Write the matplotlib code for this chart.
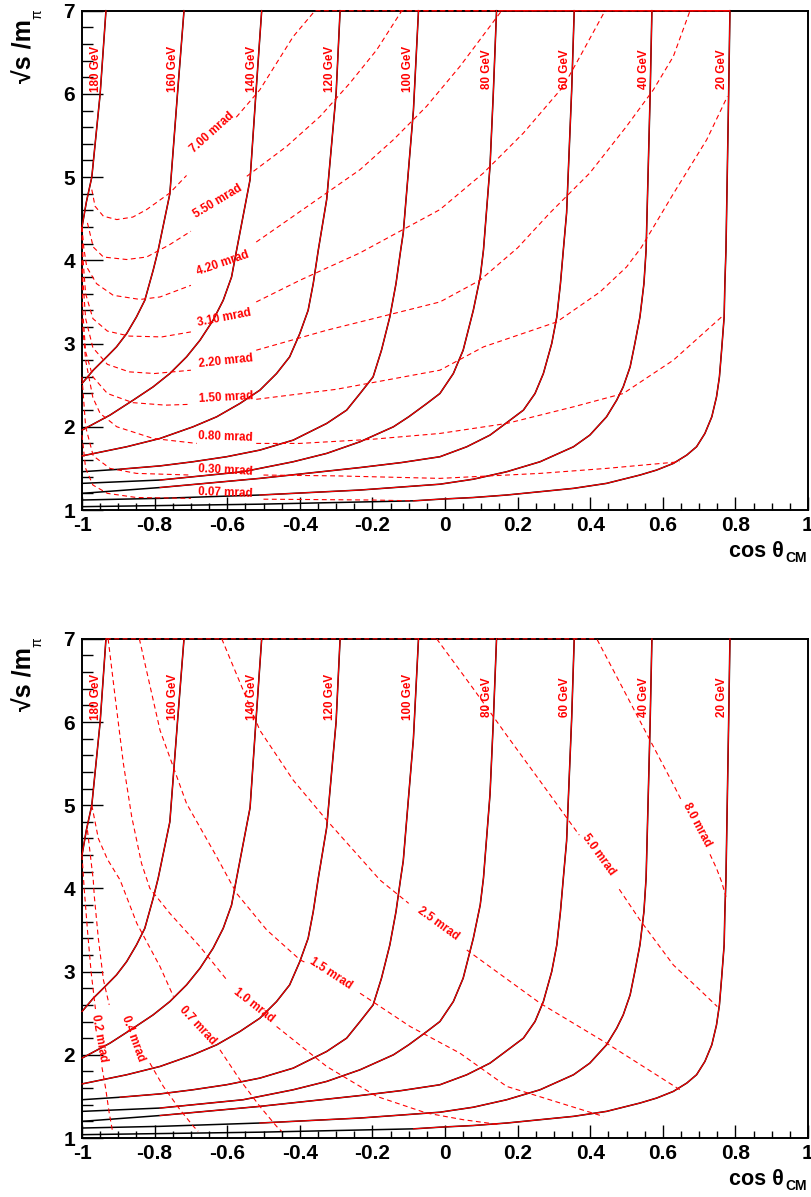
import numpy as np
import matplotlib
matplotlib.use("Agg")
import matplotlib.pyplot as plt
from matplotlib.ticker import MultipleLocator

plt.rcParams['font.family'] = ['Liberation Sans', 'DejaVu Sans']
plt.rcParams['font.weight'] = 'bold'
plt.rcParams['lines.scale_dashes'] = False

nan = float('nan')

# --- energy contours, (cos theta_CM, sqrt(s)/m_pi) ---
gev_180 = [(-0.934, 7.0), (-0.950, 6.0), (-0.973, 5.0), (-0.988, 4.7), (-1.0, 4.40)]
gev_160 = [(-0.719, 7.0), (-0.737, 6.0), (-0.758, 4.8), (-0.790, 4.125), (-0.804, 3.88),
           (-0.827, 3.52), (-0.850, 3.32), (-0.877, 3.12), (-0.905, 2.96), (-0.932, 2.84),
           (-0.969, 2.68), (-1.0, 2.52)]
gev_140 = [(-0.505, 7.0), (-0.521, 6.0), (-0.537, 4.97), (-0.574, 4.125), (-0.588, 3.80),
           (-0.611, 3.52), (-0.639, 3.28), (-0.675, 3.04), (-0.712, 2.84), (-0.758, 2.64),
           (-0.804, 2.48), (-0.859, 2.32), (-0.923, 2.14), (-1.0, 1.96)]
gev_120 = [(-0.289, 7.0), (-0.300, 6.0), (-0.326, 4.73), (-0.349, 4.125), (-0.363, 3.72),
           (-0.377, 3.40), (-0.400, 3.12), (-0.428, 2.84), (-0.464, 2.64), (-0.510, 2.44),
           (-0.565, 2.28), (-0.629, 2.12), (-0.694, 2.0), (-0.785, 1.86), (-0.877, 1.76),
           (-1.0, 1.65)]
gev_100 = [(-0.073, 7.0), (-0.087, 5.8), (-0.115, 4.33), (-0.122, 4.125), (-0.135, 3.72),
           (-0.152, 3.32), (-0.175, 2.92), (-0.198, 2.60), (-0.234, 2.40), (-0.271, 2.20),
           (-0.326, 2.04), (-0.418, 1.84), (-0.510, 1.72), (-0.602, 1.64), (-0.694, 1.58),
           (-0.785, 1.53), (-0.895, 1.49), (-1.0, 1.46)]
gev_80 = [(0.142, 7.0), (0.133, 6.0), (0.124, 5.13), (0.106, 4.125), (0.097, 3.80),
          (0.078, 3.40), (0.050, 2.92), (0.023, 2.64), (-0.014, 2.40), (-0.050, 2.28),
          (-0.100, 2.12), (-0.142, 2.0), (-0.234, 1.82), (-0.326, 1.68), (-0.418, 1.58),
          (-0.556, 1.46), (-0.785, 1.36), (-1.0, 1.32)]
gev_60 = [(0.356, 7.0), (0.349, 6.05), (0.335, 4.57), (0.326, 4.125), (0.318, 3.72),
          (0.308, 3.32), (0.294, 3.0), (0.271, 2.64), (0.248, 2.40), (0.216, 2.20),
          (0.161, 2.02), (0.124, 1.90), (0.060, 1.76), (-0.014, 1.64), (-0.120, 1.57),
          (-0.234, 1.51), (-0.510, 1.38), (-0.785, 1.27), (-1.0, 1.20)]
gev_40 = [(0.570, 7.0), (0.565, 5.97), (0.554, 4.125), (0.548, 3.72), (0.537, 3.32),
          (0.523, 3.0), (0.510, 2.72), (0.491, 2.48), (0.473, 2.32), (0.445, 2.12),
          (0.399, 1.90), (0.354, 1.76), (0.262, 1.58), (0.170, 1.46), (0.078, 1.37),
          (-0.014, 1.31), (-0.234, 1.24), (-0.510, 1.18), (-0.785, 1.14), (-1.0, 1.12)]
gev_20 = [(0.785, 7.0), (0.781, 5.9), (0.774, 4.125), (0.771, 3.72), (0.769, 3.32),
          (0.762, 2.92), (0.756, 2.60), (0.748, 2.36), (0.735, 2.12), (0.716, 1.92),
          (0.693, 1.76), (0.666, 1.66), (0.629, 1.56), (0.583, 1.48), (0.537, 1.42),
          (0.445, 1.32), (0.354, 1.26), (0.262, 1.22), (0.170, 1.18), (0.078, 1.15),
          (-0.014, 1.13), (-0.087, 1.11), (-0.510, 1.07), (-1.0, 1.04)]

gev_names = ['180 GeV', '160 GeV', '140 GeV', '120 GeV', '100 GeV',
             '80 GeV', '60 GeV', '40 GeV', '20 GeV']
gev_curves = [gev_180, gev_160, gev_140, gev_120, gev_100, gev_80, gev_60, gev_40, gev_20]
red_from = [-1.0, -1.0, -1.0, -1.0, -0.98, -0.92, -0.86, -0.675, -0.09]
gev_label_x = [-0.961, -0.748, -0.533, -0.317, -0.101, 0.115, 0.331, 0.548, 0.762]
gev_label_y = 6.3

# --- top panel: dashed angle contours ---
top_700 = [(-0.973, 4.85), (-0.964, 4.65), (-0.941, 4.53), (-0.904, 4.49), (-0.860, 4.52),
           (-0.822, 4.61), (-0.758, 4.81), (-0.712, 5.02), (nan, nan), (-0.575, 5.72),
           (-0.510, 6.05), (-0.464, 6.37), (-0.418, 6.69), (-0.358, 7.0), (0.785, 7.0)]
top_550 = [(-0.985, 4.45), (-0.969, 4.16), (-0.941, 4.04), (-0.877, 4.01), (-0.822, 4.04),
           (-0.758, 4.19), (-0.700, 4.35), (nan, nan), (-0.546, 5.01), (-0.436, 5.37),
           (-0.344, 5.73), (-0.262, 6.13), (-0.188, 6.53), (-0.119, 7.0), (0.785, 7.0)]
top_420 = [(-1.0, 4.4), (-0.995, 4.15), (-0.987, 3.92), (-0.960, 3.72), (-0.914, 3.58),
           (-0.840, 3.53), (-0.785, 3.56), (-0.700, 3.70), (nan, nan), (-0.520, 4.22),
           (-0.418, 4.53), (-0.326, 4.81), (-0.234, 5.09), (-0.142, 5.45), (-0.051, 5.85),
           (0.041, 6.33), (0.096, 6.65), (0.156, 7.0), (0.785, 7.0)]
top_310 = [(-1.0, 4.4), (-0.997, 4.0), (-0.990, 3.6), (-0.970, 3.3), (-0.930, 3.15),
           (-0.870, 3.09), (-0.780, 3.08), (-0.700, 3.14), (nan, nan), (-0.520, 3.50),
           (-0.400, 3.76), (-0.234, 4.09), (-0.014, 4.61), (0.106, 5.05), (0.216, 5.53),
           (0.326, 6.09), (0.372, 6.45), (0.441, 7.0), (0.785, 7.0)]
top_220 = [(-1.0, 4.4), (-0.998, 3.8), (-0.990, 3.3), (-0.970, 2.95), (-0.930, 2.75),
           (-0.870, 2.66), (-0.800, 2.64), (-0.700, 2.68), (nan, nan), (-0.520, 2.92),
           (-0.326, 3.16), (-0.142, 3.36), (-0.014, 3.50), (0.096, 3.76), (0.200, 4.15),
           (0.289, 4.57), (0.399, 5.05), (0.500, 5.61), (0.574, 6.05), (0.629, 6.45),
           (0.675, 7.0), (0.785, 7.0)]
top_150 = [(-1.0, 4.0), (-0.998, 3.4), (-0.990, 2.9), (-0.970, 2.6), (-0.930, 2.40),
           (-0.860, 2.29), (-0.770, 2.26), (-0.700, 2.27), (nan, nan), (-0.520, 2.33),
           (-0.300, 2.45), (-0.014, 2.68), (0.106, 2.96), (0.308, 3.26), (0.427, 3.62),
           (0.500, 3.92), (0.540, 4.15), (0.629, 4.80), (0.721, 5.45), (0.778, 5.97)]
top_080 = [(-1.0, 3.3), (-0.990, 2.8), (-0.970, 2.35), (-0.950, 2.16), (-0.904, 2.0),
           (-0.804, 1.86), (-0.684, 1.80), (nan, nan), (-0.520, 1.80), (-0.400, 1.80),
           (-0.200, 1.85), (-0.014, 1.92), (0.170, 2.04), (0.354, 2.24), (0.491, 2.40),
           (0.629, 2.80), (0.767, 3.34)]
top_030 = [(-1.0, 2.6), (-0.990, 2.0), (-0.969, 1.65), (-0.923, 1.50), (-0.850, 1.44),
           (-0.700, 1.42), (nan, nan), (-0.500, 1.42), (-0.300, 1.41), (-0.014, 1.38),
           (0.262, 1.44), (0.445, 1.50), (0.647, 1.58)]
top_007 = [(-1.0, 1.9), (-0.990, 1.5), (-0.970, 1.30), (-0.930, 1.20), (-0.850, 1.15),
           (-0.700, 1.14), (nan, nan), (-0.500, 1.13), (-0.200, 1.12), (-0.087, 1.11)]

top_names = ['7.00 mrad', '5.50 mrad', '4.20 mrad', '3.10 mrad', '2.20 mrad',
             '1.50 mrad', '0.80 mrad', '0.30 mrad', '0.07 mrad']
top_curves = [top_700, top_550, top_420, top_310, top_220, top_150, top_080, top_030, top_007]
top_label_x = [-0.641, -0.625, -0.613, -0.607, -0.604, -0.604, -0.604, -0.604, -0.604]
top_label_y = [5.53, 4.71, 3.97, 3.31, 2.79, 2.35, 1.88, 1.47, 1.21]
top_label_rot = [42, 31, 19, 11, 6, 3, -2, -3, -2]

# --- bottom panel: dashed angle contours ---
bot_80 = [(-0.934, 7.0), (0.418, 7.0), (0.482, 6.47), (0.565, 5.78), (0.629, 5.25),
          (0.650, 5.07), (nan, nan), (0.730, 4.41), (0.748, 4.24), (0.762, 4.08),
          (0.774, 3.90)]
bot_50 = [(-0.023, 7.0), (0.041, 6.62), (0.078, 6.40), (0.170, 5.84), (0.262, 5.29),
          (0.335, 4.85), (0.370, 4.64), (nan, nan), (0.480, 3.99), (0.537, 3.62),
          (0.629, 3.08), (0.702, 2.78), (0.750, 2.58)]
bot_25 = [(-0.615, 7.0), (-0.510, 5.90), (-0.418, 5.30), (-0.326, 4.82), (-0.179, 4.10),
          (-0.100, 3.82), (nan, nan), (0.060, 3.26), (0.262, 2.62), (0.445, 2.14),
          (0.647, 1.58)]
bot_15 = [(-0.842, 7.0), (-0.785, 5.90), (-0.712, 5.02), (-0.629, 4.38), (-0.574, 3.94),
          (-0.491, 3.50), (-0.399, 3.14), (-0.380, 3.10), (nan, nan), (-0.234, 2.74),
          (-0.096, 2.34), (0.041, 2.02), (0.170, 1.62), (0.436, 1.26)]
bot_10 = [(-0.928, 7.0), (-0.909, 6.31), (-0.886, 5.50), (-0.863, 4.86), (-0.836, 4.30),
          (-0.813, 4.00), (-0.758, 3.70), (-0.675, 3.30), (-0.601, 2.90), (nan, nan),
          (-0.464, 2.34), (-0.326, 1.86), (-0.188, 1.50), (-0.051, 1.30), (0.050, 1.22),
          (0.152, 1.16)]
bot_07 = [(-0.973, 5.0), (-0.955, 4.6), (-0.930, 4.35), (-0.895, 4.10), (-0.849, 3.58),
          (-0.785, 3.06), (-0.748, 2.70), (nan, nan), (-0.620, 2.06), (-0.565, 1.70),
          (-0.510, 1.38), (-0.464, 1.14), (-0.450, 1.08)]
bot_04 = [(-0.985, 4.7), (-0.969, 4.10), (-0.966, 3.90), (-0.955, 3.40), (-0.941, 2.90),
          (-0.925, 2.60), (nan, nan), (-0.813, 1.90), (-0.776, 1.62), (-0.730, 1.34),
          (-0.693, 1.14), (-0.680, 1.08)]
bot_02 = [(-1.0, 4.4), (-0.994, 4.0), (-0.985, 3.5), (-0.975, 3.0), (-0.963, 2.55),
          (nan, nan), (-0.945, 1.85), (-0.935, 1.60), (-0.925, 1.30), (-0.915, 1.06)]

bot_names = ['8.0 mrad', '5.0 mrad', '2.5 mrad', '1.5 mrad', '1.0 mrad',
             '0.7 mrad', '0.4 mrad', '0.2 mrad']
bot_curves = [bot_80, bot_50, bot_25, bot_15, bot_10, bot_07, bot_04, bot_02]
bot_label_x = [0.693, 0.424, -0.020, -0.315, -0.528, -0.682, -0.859, -0.952]
bot_label_y = [4.76, 4.40, 3.58, 2.98, 2.59, 2.35, 2.20, 2.20]
bot_label_rot = [-62, -54, -36, -33, -38, -47, -70, -80]

xtick_labels = ['-1', '-0.8', '-0.6', '-0.4', '-0.2', '0', '0.2', '0.4', '0.6', '0.8', '1']
ytick_labels = ['1', '2', '3', '4', '5', '6', '7']

W, H = 811, 1197


def draw_panel(ax, curves, names, lx, ly, lrot):
    for pts, start in zip(gev_curves, red_from):
        a = np.array(pts)
        ax.plot(a[:, 0], a[:, 1], color='black', lw=1.1, zorder=3, clip_on=False)
        r = a[a[:, 0] >= start]
        ax.plot(r[:, 0], r[:, 1], color='red', lw=0.8, zorder=4, clip_on=False)
    for name, x in zip(gev_names, gev_label_x):
        ax.text(x, gev_label_y, name, color='red', fontsize=8.4, rotation=90,
                ha='center', va='center', zorder=6)
    for pts in curves:
        a = np.array(pts)
        ax.plot(a[:, 0], a[:, 1], color='red', lw=0.8, dashes=(3.5, 2.5),
                zorder=5, clip_on=False)
    for name, x, y, rot in zip(names, lx, ly, lrot):
        ax.text(x, y, name, color='red', fontsize=8.4, rotation=rot,
                rotation_mode='anchor', ha='center', va='center', zorder=6)

    ax.set_xlim(-1, 1)
    ax.set_ylim(1, 7)
    ax.set_xticks(np.arange(-1, 1.01, 0.2))
    ax.set_xticklabels(xtick_labels)
    ax.set_yticks(np.arange(1, 8, 1))
    ax.set_yticklabels(ytick_labels)
    ax.xaxis.set_minor_locator(MultipleLocator(0.05))
    ax.yaxis.set_minor_locator(MultipleLocator(0.2))
    ax.tick_params(axis='x', which='major', direction='in', length=9.5, width=1.0,
                   labelsize=15, pad=4)
    ax.tick_params(axis='x', which='minor', direction='in', length=5, width=1.0)
    ax.tick_params(axis='y', which='major', direction='in', length=15, width=1.0,
                   labelsize=15, pad=5)
    ax.tick_params(axis='y', which='minor', direction='in', length=8, width=1.0)
    for s in ax.spines.values():
        s.set_linewidth(1.4)


fig = plt.figure(figsize=(W / 100, H / 100), dpi=100)
ax1 = fig.add_axes([82 / W, 1 - 510 / H, 726 / W, 499.3 / H])
ax2 = fig.add_axes([82 / W, 1 - 1138 / H, 726 / W, 499.2 / H])

draw_panel(ax1, top_curves, top_names, top_label_x, top_label_y, top_label_rot)
draw_panel(ax2, bot_curves, bot_names, bot_label_x, bot_label_y, bot_label_rot)

for top_px in (0, 628):
    # y title: sqrt(s)/m_pi, reading upwards
    fig.text(25 / W, 1 - (top_px + 83) / H, '√s /m', rotation=90, fontsize=18,
             ha='center', va='bottom')
    fig.text(37 / W, 1 - (top_px + 19) / H, 'π', rotation=90, fontsize=10,
             ha='center', va='bottom', fontweight='normal')
    # x title, below the tick labels
    fig.text(784 / W, 1 - (top_px + 557) / H, 'cos θ', fontsize=15.5,
             ha='right', va='baseline')
    fig.text(785 / W, 1 - (top_px + 562) / H, 'CM', fontsize=10,
             ha='left', va='baseline')

fig.savefig('out.png', dpi=100)
